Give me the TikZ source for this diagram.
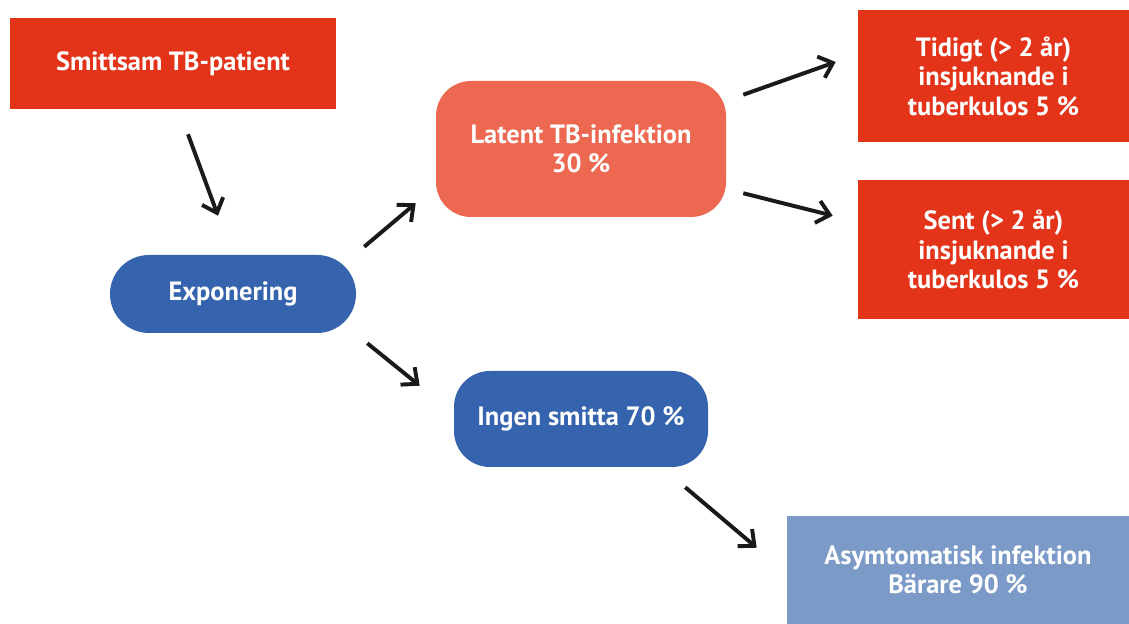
\documentclass[tikz,border=0pt]{standalone}
\usepackage{fontspec}
\setsansfont{PT Sans}
\usepackage{tikz}
\usetikzlibrary{arrows.meta, positioning, calc}
\usepackage{xcolor}
\definecolor{SignalRed}{HTML}{E3341A}
\definecolor{SalmonRed}{HTML}{EC6850}
\definecolor{CobaltBlue}{HTML}{3563AE}
\definecolor{MistBlue}{HTML}{7B9AC8}
\definecolor{ArrowInk}{HTML}{1A1A1A}

\begin{document}
\begin{tikzpicture}[
    box/.style={inner sep=0pt, align=center, text=white,
      font=\sffamily\bfseries\fontsize{18.8pt}{21pt}\selectfont},
    redbox/.style={box, fill=SignalRed},
    pill/.style={box, fill=CobaltBlue, rounded corners=#1},
    arr/.style={-{Straight Barb[length=9pt, width=16pt]}, ArrowInk, line width=2.8pt}
  ]
  \useasboundingbox (0,0) rectangle (28.225,15.6);
  % start
  \node[redbox, minimum width=8.15cm, minimum height=2.275cm] (smit) at (4.325,14.0125) {Smittsam TB-patient};
  \node[pill=0.975cm, minimum width=6.15cm, minimum height=1.95cm] (expo) at (5.825,8.25) {Exponering};
  % infected branch
  \node[box, fill=SalmonRed, rounded corners=0.875cm, minimum width=7.25cm, minimum height=3.4cm] (latent) at (14.525,11.875) {Latent TB-infektion\\30 \%};
  \node[redbox, minimum width=6.775cm, minimum height=3.3cm] (tidigt) at (24.8375,13.7) {Tidigt (> 2 år)\\insjuknande i\\tuberkulos 5 \%};
  \node[redbox, minimum width=6.775cm, minimum height=3.475cm] (sent) at (24.8375,9.3625) {Sent (> 2 år)\\insjuknande i\\tuberkulos 5 \%};
  % no infection branch
  \node[pill=0.9cm, minimum width=6.35cm, minimum height=2.4cm] (ingen) at (14.525,5.125) {Ingen smitta 70 \%};
  \node[box, fill=MistBlue, minimum width=8.55cm, minimum height=2.7cm] (asym) at (23.95,1.35) {Asymtomatisk infektion\\Bärare 90 \%};
  % arrows
  \draw[arr] ($(smit.south)+(0.375,-0.625)$) -- ($(expo.north)+(-0.375,0.975)$);
  \draw[arr] ($(expo.north east)+(0.2,0.2)$) -- ($(latent.south west)+(-0.5,0.35)$);
  \draw[arr] ($(latent.north east)+(0.425,-0.35)$) -- ($(tidigt.west)+(-0.55,0.35)$);
  \draw[arr] ($(latent.south east)+(0.425,0.6)$) -- ($(sent.north west)+(-0.625,-0.9)$);
  \draw[arr] ($(expo.south east)+(0.275,-0.25)$) -- ($(ingen.north west)+(-0.85,-0.375)$);
  \draw[arr] ($(ingen.south east)+(-0.575,-0.5)$) -- ($(asym.north west)+(-0.75,-0.8)$);
\end{tikzpicture}
\end{document}
